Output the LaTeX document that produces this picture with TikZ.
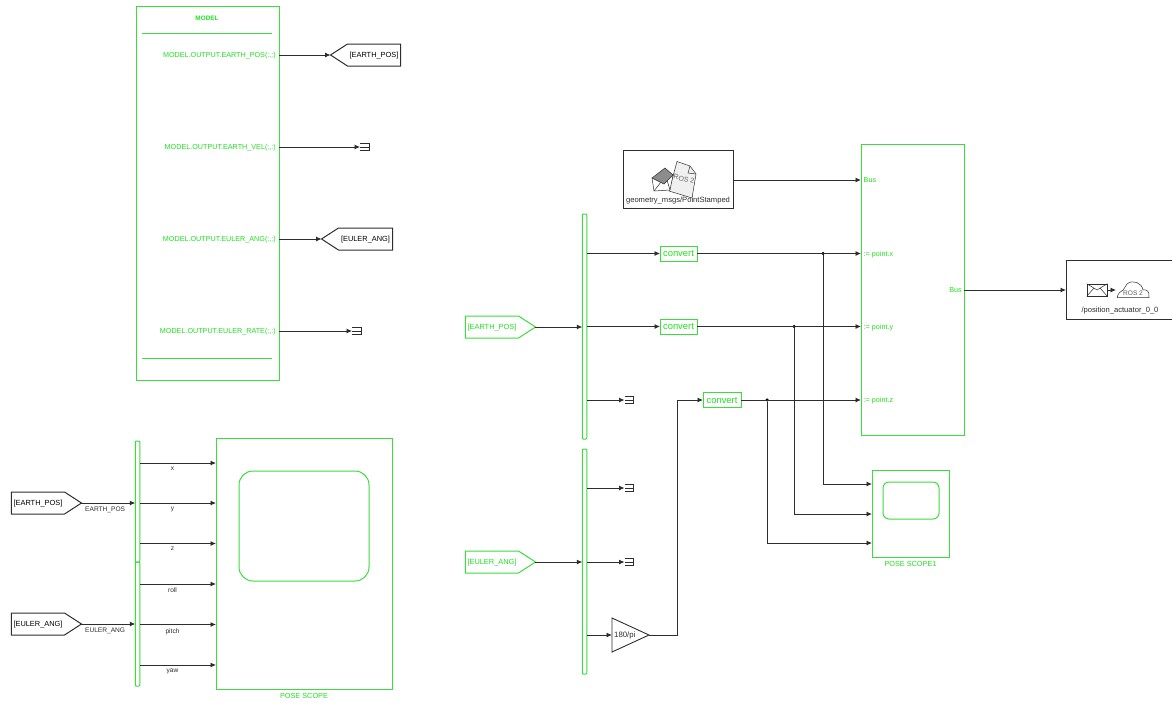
\documentclass[tikz,border=0pt]{standalone}
\usepackage{fontspec}
\setmainfont{Liberation Sans}
\usetikzlibrary{shapes.symbols, arrows.meta, positioning, calc}
\definecolor{cBlock}{RGB}{60,220,60}
\definecolor{cText}{RGB}{30,225,30}
\definecolor{cLine}{RGB}{45,45,45}
\newcommand{\smallfont}{\fontsize{7.2}{8.6}\selectfont}
\newcommand{\tagfont}{\fontsize{7.4}{9}\selectfont}
\newcommand{\tinyfont}{\fontsize{6.6}{7.8}\selectfont}
\newcommand{\namefont}{\fontsize{7.3}{8.6}\selectfont}
\tikzset{
	blk/.style      ={rectangle, draw=cBlock, line width=1pt, inner sep=0pt, outer sep=0pt},
	blkbw/.style    ={rectangle, draw=cLine, line width=1pt, inner sep=0pt, outer sep=0pt},
	busbar/.style   ={blk, rounded corners=0.8pt, minimum width=4.5pt},
	tagbox/.style   ={signal, signal to=east, signal pointer angle=66, minimum width=70pt, minimum height=22pt, inner sep=0pt, outer sep=0pt, line width=1pt, font=\tagfont, text height=5.5pt, text depth=0pt},
	tagleft/.style  ={tagbox, signal to=west},
	conv/.style     ={blk, minimum height=15pt, text=cText, font=\fontsize{9.4}{11}\selectfont, text height=6.8pt, text depth=0pt},
	portl/.style    ={text=cText, font=\smallfont, inner sep=0pt, text height=5.5pt, text depth=0pt},
	sig/.style      ={-{Latex[length=5.5pt,width=5pt]}, draw=cLine, line width=0.8pt},
	wire/.style     ={draw=cLine, line width=0.8pt},
	sumj/.style     ={circle, fill=black, minimum size=3.5pt, inner sep=0pt},
	lbl/.style      ={font=\tinyfont, text=cLine, inner sep=0pt},
	termbox/.style  ={rectangle, minimum width=9pt, minimum height=7pt, inner sep=0pt, outer sep=0pt},
}
% terminator block: name, position
\newcommand{\termblk}[2]{
	\node[termbox] (#1) at (#2) {};
	\draw[wire] (#1.north west) -- (#1.north east) -- (#1.south east) -- (#1.south west) (#1.west) -- (#1.east);
}
\begin{document}
\begin{tikzpicture}[x=1pt, y=-1pt, font=\smallfont]
	\useasboundingbox (0,0) rectangle (1172,702);
	% model block
	\node[blk, minimum width=143pt, minimum height=374pt] (model) at (207.5,193) {};
	\node[portl, font=\fontsize{6.4}{7.6}\selectfont\bfseries] (mdlname) at (207,18) {MODEL};
	\draw[draw=cBlock, line width=1pt] (142,33) -- (272,33) (142,358) -- (272,358);
	\node[portl, anchor=east] (mdlpos) at (276,55) {MODEL.OUTPUT.EARTH\_POS(:,:)};
	\node[portl, anchor=east] (mdlvel) at (276,147) {MODEL.OUTPUT.EARTH\_VEL(:,:)};
	\node[portl, anchor=east] (mdlang) at (276,239) {MODEL.OUTPUT.EULER\_ANG(:,:)};
	\node[portl, anchor=east] (mdlrate) at (276,331) {MODEL.OUTPUT.EULER\_RATE(:,:)};
	\node[tagleft, draw=cLine] (gotopos) at (374,55) {[EARTH\_POS]};
	\node[tagleft, draw=cLine, minimum width=71pt] (gotoang) at (365.5,239) {[EULER\_ANG]};
	\termblk{termvel}{364.5,147}
	\termblk{termrate}{356.5,331}
	\draw[sig] (mdlpos -| model.east) -- (gotopos.west);
	\draw[sig] (mdlvel -| model.east) -- (termvel.west);
	\draw[sig] (mdlang -| model.east) -- (gotoang.west);
	\draw[sig] (mdlrate -| model.east) -- (termrate.west);
	% pose scope
	\node[tagbox, draw=cLine] (frompos) at (38,503) {[EARTH\_POS]};
	\node[tagbox, draw=cLine] (fromang) at (38,624) {[EULER\_ANG]};
	\node[busbar, minimum height=121pt] (busa) at (137.5,501.5) {};
	\node[busbar, minimum height=124pt] (busb) at (137.5,624) {};
	\node[blk, minimum width=176pt, minimum height=251pt] (scope) at (304,563.5) {};
	\node[blk, rounded corners=14pt, minimum width=130pt, minimum height=110pt] (screen) at (304,526) {};
	\node[portl, font=\namefont, below=3.5pt of scope] (scopename) {POSE SCOPE};
	\coordinate (sx) at (216,463);
	\coordinate (sy) at (216,503);
	\coordinate (sz) at (216,543.5);
	\coordinate (sr) at (216,584);
	\coordinate (sp) at (216,624.5);
	\coordinate (sw) at (216,665);
	\draw[sig] (frompos.east) -- node[lbl, below=3.5pt, pos=.44] {EARTH\_POS} (busa.west |- frompos.east);
	\draw[sig] (fromang.east) -- node[lbl, below=3.5pt, pos=.44] {EULER\_ANG} (busb.west |- fromang.east);
	\draw[sig] (busa.east |- sx) -- node[lbl, below=3.5pt, pos=.43] {x} (sx);
	\draw[sig] (busa.east |- sy) -- node[lbl, below=3.5pt, pos=.43] {y} (sy);
	\draw[sig] (busa.east |- sz) -- node[lbl, below=3.5pt, pos=.43] {z} (sz);
	\draw[sig] (busb.east |- sr) -- node[lbl, below=3.5pt, pos=.43] {roll} (sr);
	\draw[sig] (busb.east |- sp) -- node[lbl, below=3.5pt, pos=.43] {pitch} (sp);
	\draw[sig] (busb.east |- sw) -- node[lbl, below=3.5pt, pos=.43] {yaw} (sw);
	% ros subscriber side
	\node[blkbw, minimum width=110pt, minimum height=58pt] (rosmsg) at (678,179) {};
	\node[lbl, font=\fontsize{7.6}{9}\selectfont] (msgname) at (678,201) {geometry\_msgs/PointStamped};
	\draw[cLine, line width=0.5pt, fill=black!6] (677,161.5) -- (690,166) -- (696,174) -- (692,198) -- (669,191) -- cycle;
	\draw[cLine, line width=0.5pt] (690,166) -- (688,173) -- (696,174);
	\node[rotate=-14, text=black!60, inner sep=0pt, font=\fontsize{7}{8}\selectfont] (msgros) at (684,179) {ROS 2};
	\draw[cLine, line width=0.5pt, fill=white] (652,178) -- (673,175) -- (670,190) -- (654,191) -- cycle;
	\draw[cLine, line width=0.5pt] (654,191) -- (661,182) (670,190) -- (667,180);
	\draw[cLine, line width=0.5pt, fill=black!45] (652,178) -- (665,168) -- (673,175) -- (664,184) -- cycle;
	\node[blk, minimum width=103pt, minimum height=291pt] (assign) at (912.5,289.5) {};
	\node[portl, anchor=west] (inbus) at (863.5,180) {Bus};
	\node[portl, anchor=west] (inx) at (863.5,253.5) {:= point.x};
	\node[portl, anchor=west] (iny) at (863.5,326.5) {:= point.y};
	\node[portl, anchor=west] (inz) at (863.5,400) {:= point.z};
	\node[portl, anchor=east] (outbus) at (962,290) {Bus};
	\node[blkbw, minimum width=107pt, minimum height=59pt, anchor=north west] (rospub) at (1066,260.5) {};
	\node[lbl, font=\fontsize{7.6}{9}\selectfont] (pubname) at (1120,311) {/position\_actuator\_0\_0};
	\node[rectangle, draw=cLine, line width=0.6pt, minimum width=20pt, minimum height=12pt, inner sep=0pt] (mail) at (1097,290) {};
	\draw[cLine, line width=0.5pt] (mail.north west) -- (mail.center) -- (mail.north east) (mail.south west) -- (1094,288) (mail.south east) -- (1100,288);
	\node[lbl, text=black!65] (cloudros) at (1133,293) {ROS 2};
	\draw[cLine, line width=0.5pt] (1117,297.5) -- (1149,297.5) .. controls (1150,291) and (1146,289) .. (1143,290) .. controls (1142,283) and (1133,279) .. (1127,284) .. controls (1125,287) and (1124,289) .. (1123,290) .. controls (1120,291) and (1118,294) .. (1117,297.5);
	\draw[sig, shorten >=-1pt] (mail.east) -- (1115,290);
	\draw[sig] (rosmsg.east |- inbus) -- (assign.west |- inbus);
	\draw[sig] (outbus -| assign.east) -- (rospub.west |- outbus);
	% signal routing
	\node[tagbox, draw=cBlock, text=cText] (srcpos) at (492,327) {[EARTH\_POS]};
	\node[tagbox, draw=cBlock, text=cText] (srcang) at (492,562) {[EULER\_ANG]};
	\node[busbar, minimum height=225pt] (busc) at (584.5,326.5) {};
	\node[busbar, minimum height=225pt] (busd) at (584.5,561.5) {};
	\node[conv, minimum width=37pt] (convx) at (678.5,253.5) {convert};
	\node[conv, minimum width=37pt] (convy) at (678.5,326.5) {convert};
	\node[conv, minimum width=38pt] (convz) at (722,400) {convert};
	\termblk{termz}{629,400}
	\termblk{termroll}{629,488}
	\termblk{termpitch}{629,562}
	\node[lbl, anchor=west, font=\fontsize{7.8}{9}\selectfont] (gainlbl) at (614,635) {180/pi};
	\coordinate (gainin) at (612,635);
	\coordinate (gainout) at (649,635);
	\draw[cLine, line width=0.9pt] (612,618) -- (gainout) -- (612,652) -- cycle;
	\draw[sig] (srcpos.east) -- (busc.west |- srcpos.east);
	\draw[sig] (srcang.east) -- (busd.west |- srcang.east);
	\draw[sig] (busc.east |- convx) -- (convx.west);
	\draw[sig] (busc.east |- convy) -- (convy.west);
	\draw[sig] (busc.east |- termz) -- (termz.west);
	\draw[sig] (busd.east |- termroll) -- (termroll.west);
	\draw[sig] (busd.east |- termpitch) -- (termpitch.west);
	\draw[sig] (busd.east |- gainin) -- (gainin);
	\draw[sig] (gainout) -- (677,635) -- (677,400) -- (convz.west);
	% scope tapped from the three signals
	\node[blk, minimum width=77pt, minimum height=87pt] (scopeb) at (910.5,513.5) {};
	\node[blk, rounded corners=6pt, minimum width=56pt, minimum height=37pt] (screenb) at (911,500.5) {};
	\node[portl, font=\namefont, below=3.5pt of scopeb] (scopebname) {POSE SCOPE1};
	\coordinate (sbx) at (872,484);
	\coordinate (sby) at (872,514);
	\coordinate (sbz) at (872,543);
	\node[sumj] (jx) at (823,253.5) {};
	\node[sumj] (jy) at (794,326.5) {};
	\node[sumj] (jz) at (767,400) {};
	\draw[sig] (convx.east) -- (assign.west |- convx);
	\draw[sig] (convy.east) -- (assign.west |- convy);
	\draw[sig] (convz.east) -- (assign.west |- convz);
	\draw[sig] (jx) |- (sbx);
	\draw[sig] (jy) |- (sby);
	\draw[sig] (jz) |- (sbz);
\end{tikzpicture}
\end{document}
